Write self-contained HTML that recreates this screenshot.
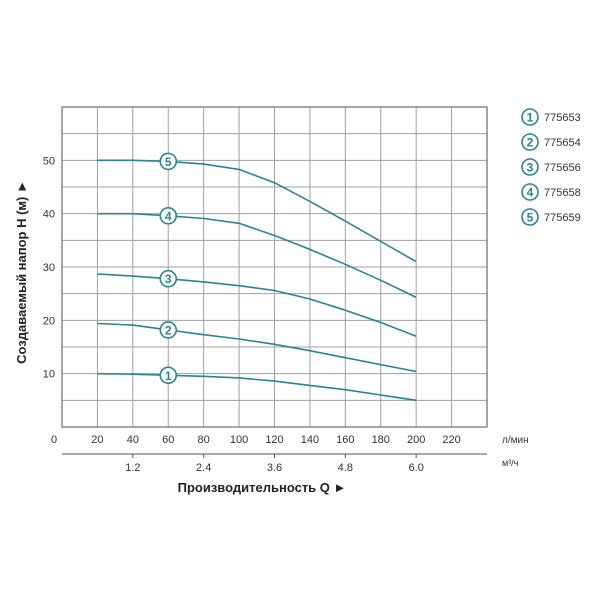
<!DOCTYPE html>
<html><head><meta charset="utf-8"><style>
body{margin:0;background:#fff;}
svg{display:block;font-family:"Liberation Sans",sans-serif;}
</style></head><body>
<svg id="c" width="600" height="600"></svg>
<script>
const xTicks=[0,20,40,60,80,100,120,140,160,180,200,220];
const m3Ticks=["1.2","2.4","3.6","4.8","6.0"];
const m3TickLpm=[40,80,120,160,200];
const yTicks=[10,20,30,40,50];
const qValues=[20,40,60,80,100,120,140,160,180,200];
const s1=[10,9.9,9.7,9.5,9.2,8.6,7.8,7,6,5];
const s2=[19.4,19.1,18.2,17.3,16.5,15.5,14.3,13,11.7,10.4];
const s3=[28.7,28.3,27.8,27.2,26.5,25.6,24,21.9,19.6,17];
const s4=[40,40,39.6,39.1,38.2,35.9,33.3,30.5,27.5,24.3];
const s5=[50,50,49.8,49.3,48.3,45.8,42.3,38.6,34.8,31];
const seriesLabels=["1","2","3","4","5"];
const models=["775653","775654","775656","775658","775659"];
const markerQ=60;
const X0=62,X1=487,Y0=427,Y1=107;
const xs=v=>X0+(v/240)*(X1-X0);
const ys=v=>Y0-(v/60)*(Y0-Y1);
const C="#2a8592",G="#a0a0a0";
const svg=document.getElementById('c');const NS="http://www.w3.org/2000/svg";
function mk(t,a,p){const e=document.createElementNS(NS,t);for(const k in a)e.setAttribute(k,a[k]);(p||svg).appendChild(e);return e;}
for(let v=20;v<=220;v+=20){const l=mk('line',{x1:xs(v),x2:xs(v),y1:Y1,y2:Y0,stroke:G,'stroke-width':1});

}
for(let v=5;v<60;v+=5){const l=mk('line',{x1:X0,x2:X1,y1:ys(v),y2:ys(v),stroke:G,'stroke-width':1});

}
const fr=mk('rect',{x:X0,y:Y1,width:X1-X0,height:Y0-Y1,fill:'none',stroke:'#777','stroke-width':1.3});


xTicks.forEach(v=>{const t=mk('text',{x:v===0?54:xs(v),y:443,'text-anchor':'middle','font-size':11,fill:'#333'});t.textContent=v;

});
const lu=mk('text',{x:502,y:443,'font-size':10,fill:'#333'});lu.textContent="л/мин";


const ax2=mk('line',{x1:X0,x2:X1,y1:454,y2:454,stroke:'#555','stroke-width':1});


m3TickLpm.forEach((v,i)=>{const tk=mk('line',{x1:xs(v),x2:xs(v),y1:454,y2:458,stroke:'#555'});


const t=mk('text',{x:xs(v),y:471,'text-anchor':'middle','font-size':11,fill:'#333'});t.textContent=m3Ticks[i];

});
const mu=mk('text',{x:502,y:466,'font-size':9,fill:'#333'});mu.textContent="м³/ч";


const xt=mk('text',{x:262,y:492,'text-anchor':'middle','font-size':13,'font-weight':'bold',fill:'#222'});xt.textContent="Производительность Q ►";


yTicks.forEach(v=>{const t=mk('text',{x:55,y:ys(v)+4,'text-anchor':'end','font-size':11,fill:'#333'});t.textContent=v;

});
const yt=mk('text',{x:0,y:0,'text-anchor':'middle','font-size':13,'font-weight':'bold',fill:'#222',transform:'translate(26,272) rotate(-90)'});yt.textContent="Создаваемый напор H (м) ►";


[s1,s2,s3,s4,s5].forEach((s,i)=>{
 const d=s.map((v,j)=>(j?'L':'M')+xs(qValues[j]).toFixed(1)+','+ys(v).toFixed(1)).join('');
 const p=mk('path',{d:d,fill:'none',stroke:C,'stroke-width':1.6,'stroke-linejoin':'round'});
 
 
 const mv=s[qValues.indexOf(markerQ)];
 const c=mk('circle',{cx:xs(markerQ),cy:ys(mv),r:8,fill:'#fff',stroke:C,'stroke-width':1.6});
 
 
 const t=mk('text',{x:xs(markerQ),y:ys(mv)+4.5,'text-anchor':'middle','font-size':12,'font-weight':'bold',fill:C});t.textContent=seriesLabels[i];
 
 
 const ly=117+i*25;
 const lc=mk('circle',{cx:530,cy:ly,r:8,fill:'#fff',stroke:C,'stroke-width':1.6});
 
 
 const ln=mk('text',{x:530,y:ly+4.5,'text-anchor':'middle','font-size':12,'font-weight':'bold',fill:C});ln.textContent=seriesLabels[i];
 
 
 const lt=mk('text',{x:544,y:ly+4,'font-size':11,fill:'#333'});lt.textContent=models[i];
 
 
});
</script>
</body></html>
